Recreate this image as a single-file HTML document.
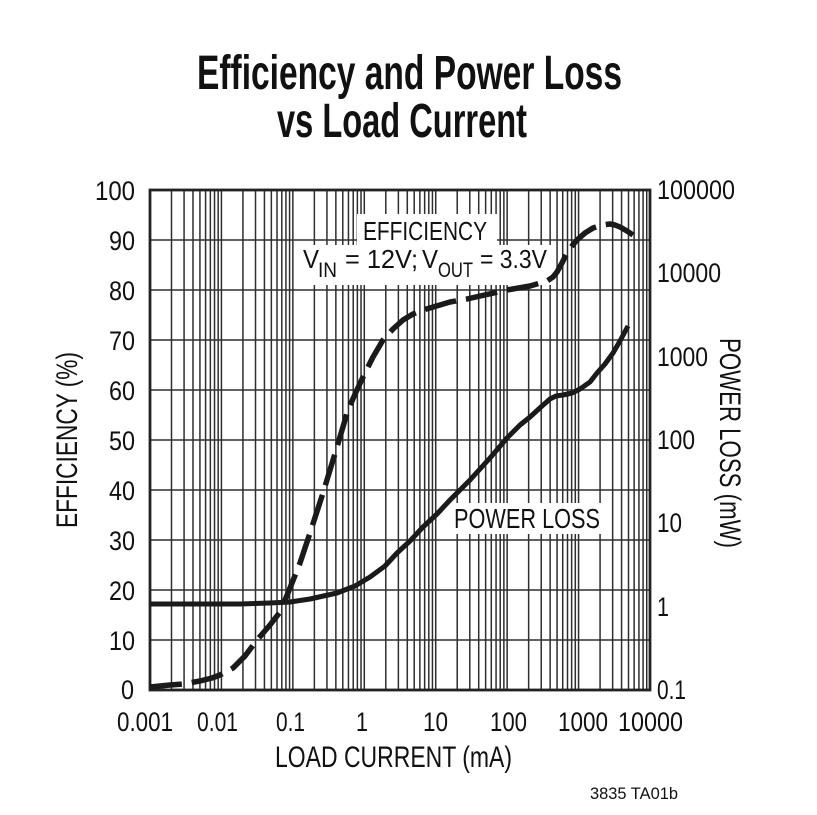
<!DOCTYPE html>
<html><head><meta charset="utf-8"><style>
html,body{margin:0;padding:0;background:#fff;}
svg{display:block;}
text{font-family:"Liberation Sans",sans-serif;fill:#111;}
</style></head><body>
<svg width="817" height="815" viewBox="0 0 817 815" xmlns="http://www.w3.org/2000/svg">
<rect width="817" height="815" fill="#fff"/>
<defs>
<g id="dec" stroke="#2e2e2e" stroke-width="1.5">
<line x1="0" y1="190" x2="0" y2="690"/>
<line x1="21.50" y1="190" x2="21.50" y2="690"/>
<line x1="34.08" y1="190" x2="34.08" y2="690"/>
<line x1="43.00" y1="190" x2="43.00" y2="690"/>
<line x1="49.93" y1="190" x2="49.93" y2="690"/>
<line x1="55.58" y1="190" x2="55.58" y2="690"/>
<line x1="60.36" y1="190" x2="60.36" y2="690"/>
<line x1="64.51" y1="190" x2="64.51" y2="690"/>
<line x1="68.16" y1="190" x2="68.16" y2="690"/>
</g>
</defs>
<use href="#dec" transform="translate(150,0)"/>
<use href="#dec" transform="translate(221.43,0)"/>
<use href="#dec" transform="translate(292.86,0)"/>
<use href="#dec" transform="translate(364.29,0)"/>
<use href="#dec" transform="translate(435.71,0)"/>
<use href="#dec" transform="translate(507.14,0)"/>
<use href="#dec" transform="translate(578.57,0)"/>
<g stroke="#2e2e2e" stroke-width="1.5">
<line x1="150" y1="240" x2="650" y2="240"/>
<line x1="150" y1="290" x2="650" y2="290"/>
<line x1="150" y1="340" x2="650" y2="340"/>
<line x1="150" y1="390" x2="650" y2="390"/>
<line x1="150" y1="440" x2="650" y2="440"/>
<line x1="150" y1="490" x2="650" y2="490"/>
<line x1="150" y1="540" x2="650" y2="540"/>
<line x1="150" y1="590" x2="650" y2="590"/>
<line x1="150" y1="640" x2="650" y2="640"/>
</g>
<rect x="150" y="190" width="500" height="500" fill="none" stroke="#222" stroke-width="2.8"/>

<rect x="357" y="214" width="140" height="34" fill="#fff"/>
<rect x="297" y="245" width="255" height="40" fill="#fff"/>
<rect x="450" y="503" width="153" height="31" fill="#fff"/>

<polyline fill="none" stroke="#1a1a1a" stroke-width="5.5" stroke-dasharray="32 10" stroke-linejoin="round"
points="150,687 170,685 183,684 200,681 212,678 220,675 233,668 245,656 257,640 270,625 280,612 288,593 300,563 310,533 323,493 337,447 348,410 356,392 363,377 373,357 383,340 393,329 403,320 413,314 423,310 450,302 467,299 507,290 530,286 547,281 553,277 557,272 562,263 567,253 572,246 577,240 585,233 593,228 602,225 610,224 615,225 620,227 627,231 633,235"/>
<polyline fill="none" stroke="#1a1a1a" stroke-width="5" stroke-linejoin="round" stroke-linecap="butt"
points="150,604 200,604 240,604 270,603 290,602 310,599 337,593 355,586 370,577 385,566 397,553 410,541 423,527 437,514 450,500 470,480 490,458 507,438 520,425 530,417 542,406 550,399 556,396 563,395 572,393 580,389 590,382 597,373 605,364 613,353 620,341 628,326"/>

<text x="197" y="89" font-size="48" font-weight="bold" textLength="425" lengthAdjust="spacingAndGlyphs">Efficiency and Power Loss</text>
<text x="277" y="137" font-size="48" font-weight="bold" textLength="250" lengthAdjust="spacingAndGlyphs">vs Load Current</text>

<text x="363" y="240" font-size="26" textLength="124" lengthAdjust="spacingAndGlyphs">EFFICIENCY</text>
<text x="303" y="268" font-size="26" textLength="16" lengthAdjust="spacingAndGlyphs">V</text>
<text x="318" y="277" font-size="21" textLength="19" lengthAdjust="spacingAndGlyphs">IN</text>
<text x="345" y="268" font-size="26" textLength="73" lengthAdjust="spacingAndGlyphs">= 12V;</text>
<text x="422" y="268" font-size="26" textLength="16" lengthAdjust="spacingAndGlyphs">V</text>
<text x="438" y="277" font-size="21" textLength="35" lengthAdjust="spacingAndGlyphs">OUT</text>
<text x="480" y="268" font-size="26" textLength="67" lengthAdjust="spacingAndGlyphs">= 3.3V</text>
<text x="454" y="528" font-size="28" textLength="146" lengthAdjust="spacingAndGlyphs">POWER LOSS</text>

<g font-size="26.5">
<text x="95" y="200" textLength="40" lengthAdjust="spacingAndGlyphs">100</text>
<text x="109" y="250" textLength="26" lengthAdjust="spacingAndGlyphs">90</text>
<text x="109" y="300" textLength="26" lengthAdjust="spacingAndGlyphs">80</text>
<text x="109" y="350" textLength="26" lengthAdjust="spacingAndGlyphs">70</text>
<text x="109" y="400" textLength="26" lengthAdjust="spacingAndGlyphs">60</text>
<text x="109" y="450" textLength="26" lengthAdjust="spacingAndGlyphs">50</text>
<text x="109" y="500" textLength="26" lengthAdjust="spacingAndGlyphs">40</text>
<text x="109" y="550" textLength="26" lengthAdjust="spacingAndGlyphs">30</text>
<text x="109" y="600" textLength="26" lengthAdjust="spacingAndGlyphs">20</text>
<text x="109" y="650" textLength="26" lengthAdjust="spacingAndGlyphs">10</text>
<text x="121" y="699" textLength="13" lengthAdjust="spacingAndGlyphs">0</text>
</g>
<g font-size="26.5">
<text x="657" y="199" textLength="78" lengthAdjust="spacingAndGlyphs">100000</text>
<text x="657" y="282" textLength="64" lengthAdjust="spacingAndGlyphs">10000</text>
<text x="657" y="366" textLength="51" lengthAdjust="spacingAndGlyphs">1000</text>
<text x="657" y="449" textLength="38" lengthAdjust="spacingAndGlyphs">100</text>
<text x="657" y="532" textLength="25" lengthAdjust="spacingAndGlyphs">10</text>
<text x="657" y="616" textLength="12" lengthAdjust="spacingAndGlyphs">1</text>
<text x="657" y="699" textLength="29" lengthAdjust="spacingAndGlyphs">0.1</text>
</g>
<g font-size="26.5">
<text x="117" y="731" textLength="56" lengthAdjust="spacingAndGlyphs">0.001</text>
<text x="197" y="731" textLength="41" lengthAdjust="spacingAndGlyphs">0.01</text>
<text x="276" y="731" textLength="29" lengthAdjust="spacingAndGlyphs">0.1</text>
<text x="356" y="731" textLength="12" lengthAdjust="spacingAndGlyphs">1</text>
<text x="423" y="731" textLength="25" lengthAdjust="spacingAndGlyphs">10</text>
<text x="490" y="731" textLength="37" lengthAdjust="spacingAndGlyphs">100</text>
<text x="558" y="731" textLength="50" lengthAdjust="spacingAndGlyphs">1000</text>
<text x="618" y="731" textLength="65" lengthAdjust="spacingAndGlyphs">10000</text>
</g>

<text x="275" y="767" font-size="30" textLength="237" lengthAdjust="spacingAndGlyphs">LOAD CURRENT (mA)</text>
<text transform="translate(77,528) rotate(-90)" x="0" y="0" font-size="30" textLength="176" lengthAdjust="spacingAndGlyphs">EFFICIENCY (%)</text>
<text transform="translate(720,338) rotate(90)" x="0" y="0" font-size="30" textLength="210" lengthAdjust="spacingAndGlyphs">POWER LOSS (mW)</text>

<text x="590" y="799" font-size="16.5" textLength="88" lengthAdjust="spacingAndGlyphs">3835 TA01b</text>
</svg>
</body></html>
